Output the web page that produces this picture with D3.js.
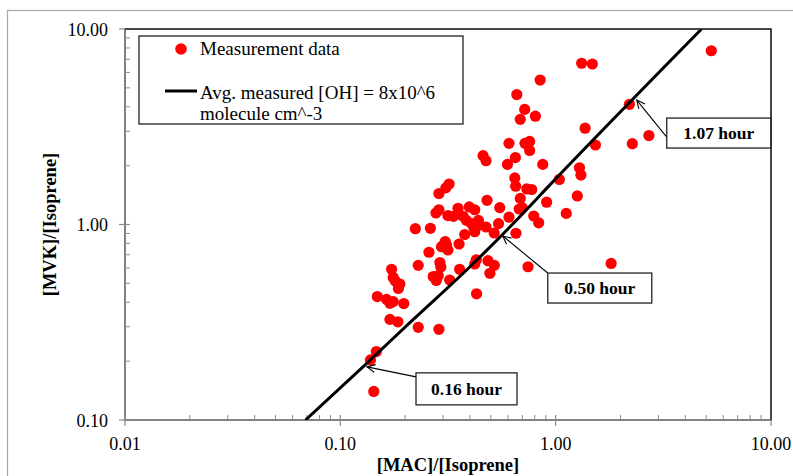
<!DOCTYPE html>
<html>
<head>
<meta charset="utf-8">
<script src="https://cdn.jsdelivr.net/npm/d3@7/dist/d3.min.js"></script>
<style>
  html, body { margin: 0; padding: 0; background: #fff; }
  svg { display: block; }
  text { font-family: "Liberation Serif", "Times New Roman", serif; fill: #000; }
</style>
</head>
<body>
<svg id="chart" width="793" height="476"></svg>
<script>
// ---- Data ----
const macIso = [5.28,1.32,1.48,0.847,0.660,0.306,0.718,0.685,0.805,2.20,1.37,2.71,2.27,1.53,0.607,0.720,0.757,0.757,
  0.460,0.475,0.650,0.597,0.871,1.29,1.31,1.04,0.646,0.652,0.734,0.774,1.26,0.685,0.908,0.320,0.309,0.287,
  0.480,0.550,0.699,0.677,1.12,0.791,0.834,0.607,0.287,0.278,0.316,0.352,0.397,0.421,0.335,0.372,0.385,0.438,
  0.407,0.416,0.443,0.475,0.543,0.518,0.421,0.378,0.654,0.223,0.262,0.307,0.311,0.295,0.316,0.356,0.258,
  0.230,0.290,0.293,0.270,0.285,0.279,0.322,0.358,0.428,0.421,0.485,0.519,0.495,0.744,1.81,0.429,
  0.173,0.176,0.180,0.189,0.186,0.1485,0.164,0.170,0.176,0.197,0.170,0.185,0.230,0.287,0.147,0.138,0.143];
const mvkIso = [7.74,6.68,6.62,5.48,4.62,3.97,3.88,3.45,3.58,4.12,3.11,2.85,2.59,2.55,2.60,2.60,2.66,2.39,
  2.25,2.12,2.20,2.03,2.03,1.95,1.79,1.70,1.73,1.57,1.52,1.51,1.40,1.36,1.30,1.61,1.54,1.44,
  1.33,1.22,1.22,1.20,1.14,1.105,1.02,1.09,1.19,1.145,1.11,1.21,1.23,1.19,1.10,1.10,1.05,1.05,
  1.01,0.971,0.994,0.971,1.01,0.905,0.919,0.889,0.902,0.952,0.956,0.818,0.785,0.770,0.741,0.795,0.721,
  0.618,0.639,0.606,0.542,0.548,0.517,0.520,0.590,0.660,0.628,0.653,0.618,0.563,0.608,0.632,0.442,
  0.590,0.536,0.514,0.496,0.471,0.428,0.414,0.395,0.403,0.394,0.327,0.318,0.298,0.291,0.224,0.203,0.140];
// constant-[OH] reference curve
const ohMac = [0.0689, 0.130, 0.217, 0.399, 0.659, 0.938, 4.76];
const ohMvk = [0.100, 0.191, 0.325, 0.606, 1.055, 1.59, 10.0];
// annotations
const annLabels = ["0.16 hour", "0.50 hour", "1.07 hour"];
const annMac = [0.133, 0.568, 2.38];
const annMvk = [0.187, 0.873, 4.33];
const xTicks = [0.01, 0.1, 1, 10];
const yTicks = [0.1, 1, 10];
const xTitle = "[MAC]/[Isoprene]";
const yTitle = "[MVK]/[Isoprene]";
const legendLabels = ["Measurement data", "Avg. measured [OH] = 8x10^6", "molecule cm^-3"];

// ---- Layout ----
const svg = d3.select("#chart");
const L = 125, R = 771, T = 29, B = 420;
const x = d3.scaleLog().domain([0.01, 10]).range([L, R]);
const y = d3.scaleLog().domain([0.1, 10]).range([B, T]);
const axisGray = "#8a8a8a";

// outer chart frame
svg.append("rect").attr("x", 7.5).attr("y", 10.5).attr("width", 820).attr("height", 500)
  .attr("fill", "none").attr("stroke", "#a8a8a8").attr("stroke-width", 1.2);

// plot area border (top/right dark)
svg.append("rect").attr("x", L).attr("y", T).attr("width", R - L).attr("height", B - T)
  .attr("fill", "#fff").attr("stroke", "#3a3a3a").attr("stroke-width", 1.5);

svg.append("clipPath").attr("id", "pa").append("rect")
  .attr("x", L).attr("y", T).attr("width", R - L).attr("height", B - T);

// minor ticks
const minorX = [], minorY = [];
for (let d = 0.01; d < 10; d *= 10) for (let k = 2; k <= 9; k++) minorX.push(d * k);
for (let d = 0.1; d < 10; d *= 10) for (let k = 2; k <= 9; k++) minorY.push(d * k);

// X axis
const gx = svg.append("g");
gx.append("line").attr("x1", L).attr("x2", R).attr("y1", B).attr("y2", B)
  .attr("stroke", axisGray).attr("stroke-width", 1.5);
gx.selectAll("line.minor").data(minorX).join("line").attr("class", "minor")
  .attr("x1", d => x(d)).attr("x2", d => x(d)).attr("y1", B - 5).attr("y2", B)
  .attr("stroke", axisGray).attr("stroke-width", 1);
gx.selectAll("line.major").data(xTicks).join("line").attr("class", "major")
  .attr("x1", d => x(d)).attr("x2", d => x(d)).attr("y1", B - 5).attr("y2", B + 6)
  .attr("stroke", axisGray).attr("stroke-width", 1.2);
gx.selectAll("text").data(xTicks).join("text")
  .attr("x", d => x(d)).attr("y", 450).attr("text-anchor", "middle")
  .attr("font-size", 18).text(d => d3.format(".2f")(d));

// Y axis
const gy = svg.append("g");
gy.append("line").attr("x1", L).attr("x2", L).attr("y1", T).attr("y2", B)
  .attr("stroke", axisGray).attr("stroke-width", 1.5);
gy.selectAll("line.minor").data(minorY).join("line").attr("class", "minor")
  .attr("x1", L).attr("x2", L + 5).attr("y1", d => y(d)).attr("y2", d => y(d))
  .attr("stroke", axisGray).attr("stroke-width", 1);
gy.selectAll("line.major").data(yTicks).join("line").attr("class", "major")
  .attr("x1", L - 6).attr("x2", L + 5).attr("y1", d => y(d)).attr("y2", d => y(d))
  .attr("stroke", axisGray).attr("stroke-width", 1.2);
gy.selectAll("text").data(yTicks).join("text")
  .attr("x", 108).attr("y", d => y(d) + 6.5).attr("text-anchor", "end")
  .attr("font-size", 18).text(d => d3.format(".2f")(d));

// axis titles
svg.append("text").attr("x", 448).attr("y", 471).attr("text-anchor", "middle")
  .attr("font-size", 18.5).attr("font-weight", "bold").text(xTitle);
svg.append("text").attr("transform", `translate(56,${(T + B) / 2}) rotate(-90)`)
  .attr("text-anchor", "middle").attr("font-size", 18.5).attr("font-weight", "bold").text(yTitle);

// data points
const pts = macIso.map((m, i) => ({ m, v: mvkIso[i] }));
svg.append("g").attr("clip-path", "url(#pa)").selectAll("circle").data(pts).join("circle")
  .attr("cx", d => x(d.m)).attr("cy", d => y(d.v)).attr("r", 5.6).attr("fill", "#ff0000");

// OH line
const ohPts = ohMac.map((m, i) => [m, ohMvk[i]]);
svg.append("path").attr("clip-path", "url(#pa)")
  .attr("d", d3.line().x(d => x(d[0])).y(d => y(d[1])).curve(d3.curveMonotoneX)(ohPts))
  .attr("fill", "none").attr("stroke", "#000").attr("stroke-width", 3);

// redraw top/right border above line
svg.append("line").attr("x1", L).attr("x2", R).attr("y1", T).attr("y2", T)
  .attr("stroke", "#3a3a3a").attr("stroke-width", 1.5);
svg.append("line").attr("x1", R).attr("x2", R).attr("y1", T).attr("y2", B)
  .attr("stroke", "#3a3a3a").attr("stroke-width", 1.5);

// annotations: box offsets relative to arrow tip
const annBox = [
  { dx: 49, dy: 6, w: 101, h: 32, sy: 4 },
  { dx: 45, dy: 37, w: 104, h: 30, sy: 0 },
  { dx: 30, dy: 18, w: 104, h: 30, sy: 19 }
];
annLabels.forEach((lab, i) => {
  const tx = x(annMac[i]), ty = y(annMvk[i]);
  const b = annBox[i];
  const bx = tx + b.dx, by = ty + b.dy;
  const sx = bx, sy = by + b.sy;
  const g = svg.append("g");
  g.append("line").attr("x1", sx).attr("y1", sy).attr("x2", tx).attr("y2", ty)
    .attr("stroke", "#000").attr("stroke-width", 1.1);
  const ang = Math.atan2(sy - ty, sx - tx);
  const hl = 9, ha = 0.45;
  g.append("path")
    .attr("d", `M${tx + hl * Math.cos(ang + ha)},${ty + hl * Math.sin(ang + ha)} L${tx},${ty} L${tx + hl * Math.cos(ang - ha)},${ty + hl * Math.sin(ang - ha)}`)
    .attr("fill", "none").attr("stroke", "#000").attr("stroke-width", 1.1);
  g.append("rect").attr("x", bx).attr("y", by).attr("width", b.w).attr("height", b.h)
    .attr("fill", "#fff").attr("stroke", "#222").attr("stroke-width", 1.3);
  g.append("text").attr("x", bx + b.w / 2).attr("y", by + b.h / 2 + 6)
    .attr("text-anchor", "middle").attr("font-size", 17.5).attr("font-weight", "bold").text(lab);
});

// legend
const lg = svg.append("g");
lg.append("rect").attr("x", 139).attr("y", 36).attr("width", 324).attr("height", 88)
  .attr("fill", "#fff").attr("stroke", "#222").attr("stroke-width", 1.3);
lg.append("circle").attr("cx", 181).attr("cy", 49).attr("r", 5.8).attr("fill", "#ff0000");
lg.append("text").attr("x", 200).attr("y", 55).attr("font-size", 19).text(legendLabels[0]);
lg.append("line").attr("x1", 165).attr("x2", 197).attr("y1", 91).attr("y2", 91)
  .attr("stroke", "#000").attr("stroke-width", 3);
lg.append("text").attr("x", 200).attr("y", 99).attr("font-size", 19).text(legendLabels[1]);
lg.append("text").attr("x", 200).attr("y", 120).attr("font-size", 19).text(legendLabels[2]);
</script>
</body>
</html>
